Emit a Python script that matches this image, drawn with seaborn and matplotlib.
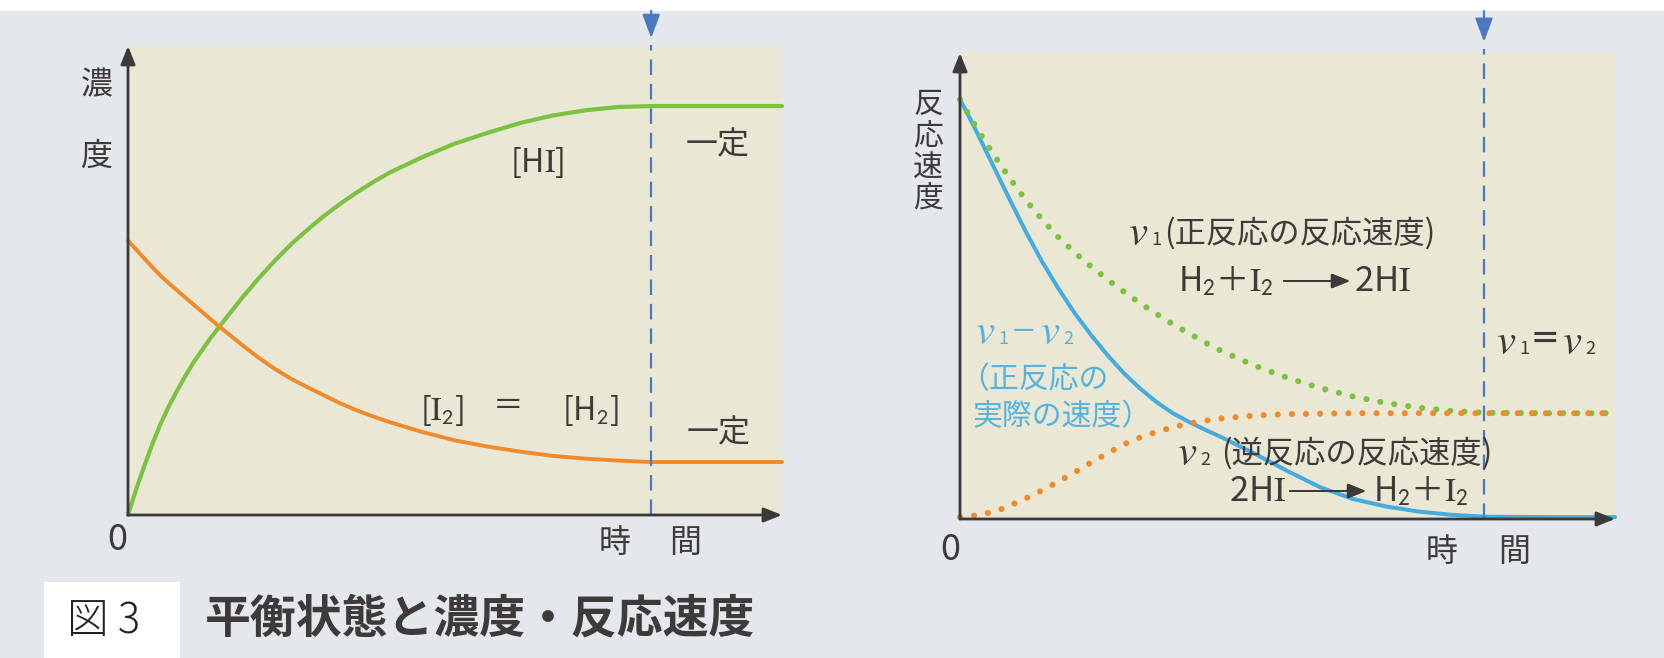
import matplotlib
matplotlib.use("Agg")
import matplotlib.pyplot as plt
import seaborn as sns
import pandas as pd
from matplotlib.patches import Rectangle

# ---------------- data ----------------
time_pts = [0, 0.125, 0.25, 0.375, 0.5, 0.625, 0.75, 0.875, 1.0, 1.25, 1.5, 1.75, 2.0,
            2.25, 2.5, 2.75, 3.0, 3.25, 3.5, 3.75, 4.0, 4.5, 5.0, 5.5, 6.0, 6.5,
            7.0, 7.5, 8.0, 9.0, 10.0]
# left panel: concentrations
hi_conc = [0.0, 0.55, 1.05, 1.52, 1.95, 2.32, 2.65, 2.96, 3.25, 3.75, 4.20, 4.64, 5.05,
           5.43, 5.78, 6.09, 6.38, 6.64, 6.88, 7.10, 7.30, 7.63, 7.92, 8.15, 8.36, 8.52,
           8.63, 8.70, 8.72, 8.72, 8.72]
i2_conc = [5.85, 5.66, 5.47, 5.28, 5.10, 4.94, 4.79, 4.64, 4.49, 4.19, 3.90, 3.62, 3.35,
           3.11, 2.90, 2.72, 2.55, 2.38, 2.23, 2.10, 1.98, 1.77, 1.59, 1.46, 1.35, 1.26,
           1.20, 1.16, 1.13, 1.13, 1.13]
# right panel: reaction rates
v1_rate = [9.0, 8.70, 8.40, 8.12, 7.85, 7.59, 7.33, 7.09, 6.85, 6.43, 6.05, 5.72, 5.42,
           5.14, 4.88, 4.63, 4.40, 4.18, 3.98, 3.78, 3.60, 3.29, 3.03, 2.81, 2.63, 2.49,
           2.39, 2.32, 2.28, 2.27, 2.27]
v2_rate = [0.04, 0.05, 0.08, 0.11, 0.16, 0.21, 0.28, 0.36, 0.44, 0.61, 0.80, 1.00, 1.21,
           1.41, 1.60, 1.75, 1.87, 1.97, 2.05, 2.11, 2.16, 2.22, 2.25, 2.26, 2.27, 2.27,
           2.27, 2.27, 2.27, 2.27, 2.27]
net_rate = [9.0, 8.67, 8.32, 7.96, 7.60, 7.24, 6.88, 6.53, 6.18, 5.53, 4.95, 4.42, 3.95,
            3.52, 3.13, 2.80, 2.51, 2.27, 2.08, 1.91, 1.75, 1.40, 1.03, 0.68, 0.43, 0.27,
            0.16, 0.09, 0.05, 0.04, 0.04]
equilibrium_time = 8.0

x_axis_label = ["時", "間"]
left_ylabel = ["濃", "度"]
right_ylabel = "反\n応\n速\n度"
fig_number = "図 3"
fig_title = "平衡状態と濃度・反応速度"

# ---------------- style ----------------
PAGE = "#e4e8ec"
BEIGE = "#ebe7d5"
GREEN = "#7cc242"
ORANGE = "#ef8b2c"
BLUE = "#45ace0"
DASH = "#4a78c2"
AXC = "#3a3a3a"
TXT = "#3e3a39"
BLUE_TXT = "#55b4de"

sns.set_theme(style="white")
plt.rcParams["font.family"] = ["Noto Sans CJK JP", "DejaVu Sans"]
plt.rcParams["mathtext.fontset"] = "stix"

W, H = 1664, 658
fig = plt.figure(figsize=(W / 100, H / 100), dpi=100)
fig.patch.set_facecolor(PAGE)
fig.add_artist(Rectangle((0, 1 - 11 / H), 1, 11 / H, transform=fig.transFigure,
                         fc="white", ec="none", zorder=0))
fig.add_artist(Rectangle((44 / W, 0), 136 / W, 76 / H, transform=fig.transFigure,
                         fc="white", ec="none", zorder=0))

ax1 = fig.add_axes([128 / W, 1 - 515 / H, 654 / W, 469 / H])
ax2 = fig.add_axes([960 / W, 1 - 519 / H, 655 / W, 466 / H])

df_conc = pd.DataFrame({"time": time_pts, "HI": hi_conc, "I2": i2_conc})
df_rate = pd.DataFrame({"time": time_pts, "v1": v1_rate, "v2": v2_rate, "net": net_rate})


def ftext(px, py, s, **kw):
    """place a label at a pixel position of the 1664x658 canvas (y from top)"""
    kw.setdefault("color", TXT)
    kw.setdefault("va", "center")
    kw.setdefault("ha", "center")
    return fig.text(px / W, 1 - py / H, s, **kw)


def farrow(x0, x1, py, color=TXT):
    fig.add_artist(plt.annotate(
        "", xy=(x1 / W, 1 - py / H), xytext=(x0 / W, 1 - py / H),
        xycoords="figure fraction", textcoords="figure fraction",
        arrowprops=dict(arrowstyle="-|>,head_length=0.7,head_width=0.28", color=color,
                        lw=1.4, mutation_scale=16, shrinkA=0, shrinkB=0)))


def vsym(px, py, digit, color=TXT):
    ftext(px, py, r"$v$", fontsize=31, color=color)
    ftext(px + 18, py + 7, digit, fontsize=13, color=color)


def frame(ax, top_y, tip_y):
    ax.set_xlim(0, 10)
    ax.set_ylim(0, 10)
    ax.set_facecolor(BEIGE)
    for s in ax.spines.values():
        s.set_visible(False)
    ax.set_xticks([])
    ax.set_yticks([])
    ax.set_xlabel("")
    ax.set_ylabel("")
    arrow = dict(arrowstyle="-|>,head_length=0.55,head_width=0.22", color=AXC, lw=2.0,
                 mutation_scale=20, shrinkA=0, shrinkB=0)
    ax.annotate("", xy=(0, 10), xytext=(0, 0), arrowprops=arrow, annotation_clip=False, zorder=5)
    ax.annotate("", xy=(10, 0), xytext=(0, 0), arrowprops=arrow, annotation_clip=False, zorder=5)
    # equilibrium marker
    ax.plot([equilibrium_time, equilibrium_time], [0, tip_y - 0.15], ls=(0, (7, 4)), lw=1.6,
            color=DASH, clip_on=False, zorder=4)
    ax.annotate("", xy=(equilibrium_time, tip_y), xytext=(equilibrium_time, top_y),
                arrowprops=dict(arrowstyle="-|>,head_length=0.8,head_width=0.3", color=DASH,
                                lw=1.6, mutation_scale=18, shrinkA=0, shrinkB=0),
                annotation_clip=False, zorder=4)


frame(ax1, 10.75, 10.17)
frame(ax2, 10.9, 10.24)

# ---------------- left panel ----------------
sns.lineplot(data=df_conc, x="time", y="HI", ax=ax1, color=GREEN, lw=3.0,
             legend=False, clip_on=False, zorder=3)
sns.lineplot(data=df_conc, x="time", y="I2", ax=ax1, color=ORANGE, lw=2.8,
             legend=False, clip_on=False, zorder=3)
ax1.set_xlabel("")
ax1.set_ylabel("")

ftext(537, 162, r"[H$\mathrm{I}$]", fontsize=23)
ftext(442, 410, r"[$\mathrm{I}_\mathsf{2}$]", fontsize=23)
ftext(508, 407, "＝", fontsize=22)
ftext(590, 410, r"[H$_\mathsf{2}$]", fontsize=23)
ftext(718, 145, "一定", fontsize=23)
ftext(719, 433, "一定", fontsize=23)
ftext(97, 85, left_ylabel[0], fontsize=23)
ftext(97, 157, left_ylabel[1], fontsize=23)
ftext(117, 540, "0", fontsize=26)
ftext(615, 543, x_axis_label[0], fontsize=23)
ftext(685, 543, x_axis_label[1], fontsize=23)

# ---------------- right panel ----------------
sns.lineplot(data=df_rate, x="time", y="net", ax=ax2, color=BLUE, lw=2.9,
             legend=False, clip_on=False, zorder=3)
sns.lineplot(data=df_rate, x="time", y="v1", ax=ax2, color=GREEN, lw=4.4,
             ls=(0, (0.01, 2.3)), dash_capstyle="round", legend=False, clip_on=False, zorder=3)
sns.lineplot(data=df_rate, x="time", y="v2", ax=ax2, color=ORANGE, lw=4.4,
             ls=(0, (0.01, 2.3)), dash_capstyle="round", legend=False, clip_on=False, zorder=3)
ax2.set_xlabel("")
ax2.set_ylabel("")

ftext(928, 152, right_ylabel, fontsize=21.5, linespacing=1.02)

# v1 (forward)
vsym(1138, 233, "1")
ftext(1164, 233, "(正反応の反応速度)", fontsize=22.5, ha="left")
ftext(1178, 291, r"H$_\mathsf{2}$＋$\mathrm{I}_\mathsf{2}$", fontsize=24, ha="left", va="baseline")
farrow(1284, 1350, 281)
ftext(1354, 291, r"2H$\mathrm{I}$", fontsize=25, ha="left", va="baseline")

# v2 (reverse)
vsym(1187, 453, "2")
ftext(1221, 453, "(逆反応の反応速度)", fontsize=22.5, ha="left")
ftext(1229, 501, r"2H$\mathrm{I}$", fontsize=25, ha="left", va="baseline")
farrow(1290, 1366, 491)
ftext(1373, 501, r"H$_\mathsf{2}$＋$\mathrm{I}_\mathsf{2}$", fontsize=24, ha="left", va="baseline")

# v1 = v2
vsym(1506, 342, "1")
ftext(1545, 340, "＝", fontsize=22, fontweight="bold")
vsym(1572, 342, "2")

# v1 - v2 (net, blue)
vsym(985, 332, "1", color=BLUE_TXT)
ftext(1023, 332, "ー", fontsize=17, color=BLUE_TXT)
vsym(1050, 332, "2", color=BLUE_TXT)
ftext(959, 380, "（正反応の", fontsize=21.5, ha="left", color=BLUE_TXT)
ftext(972, 417, "実際の速度）", fontsize=21.5, ha="left", color=BLUE_TXT)

ftext(950, 550, "0", fontsize=26)
ftext(1442, 552, x_axis_label[0], fontsize=23)
ftext(1514, 552, x_axis_label[1], fontsize=23)

# ---------------- caption ----------------
ftext(67, 621, fig_number, ha="left", fontsize=30, fontweight="light", color="#222222")
ftext(205, 620, fig_title, ha="left", fontsize=33, fontweight="bold")

fig.savefig("out.png", dpi=100, facecolor=fig.get_facecolor())
